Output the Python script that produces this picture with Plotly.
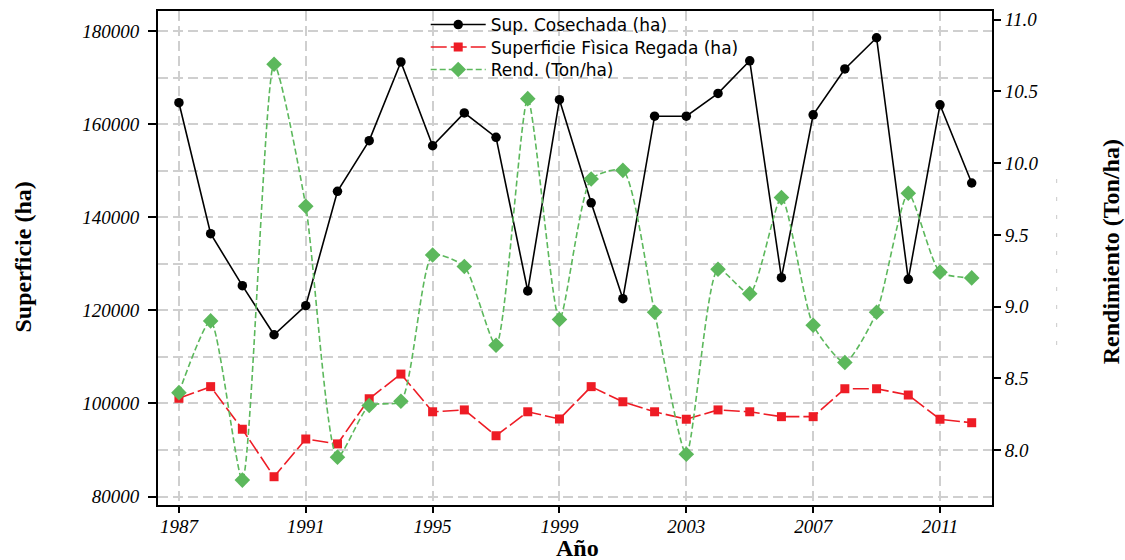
import plotly.graph_objects as go

years = list(range(1987, 2013))

sup_cosechada = [164600, 136450, 125300, 114750, 121000, 145550, 156450, 173350,
                 155350, 162400, 157150, 124150, 165250, 143100, 122500, 161700,
                 161700, 166600, 173600, 127000, 162000, 171850, 178550, 126650,
                 164150, 147350]

sup_regada = [101100, 103600, 94450, 84250, 92350, 91300, 101000, 106300,
              98200, 98600, 93050, 98200, 96650, 103600, 100350, 98200,
              96600, 98600, 98200, 97150, 97150, 103150, 103150, 101800,
              96600, 95850]

rendimiento = [8.40, 8.90, 7.79, 10.69, 9.70, 7.95, 8.31, 8.34, 9.36, 9.28,
               8.73, 10.45, 8.91, 9.89, 9.95, 8.96, 7.97, 9.26, 9.09, 9.76,
               8.87, 8.61, 8.96, 9.79, 9.24, 9.20]

names = ["Sup. Cosechada (ha)", "Superficie Fìsica Regada (ha)", "Rend. (Ton/ha)"]

x_ticks = [1987, 1991, 1995, 1999, 2003, 2007, 2011]
y_ticks = [80000, 100000, 120000, 140000, 160000, 180000]
y2_ticks = [8.0, 8.5, 9.0, 9.5, 10.0, 10.5, 11.0]

BLACK = "#000000"
RED = "#ee1c25"
GREEN = "#5cb85c"
GRID = "#cfcfcf"

tick_font = dict(family="Liberation Serif", size=19, color="black", style="italic")
title_font = dict(family="Liberation Serif", size=24, color="black", weight="bold")
legend_font = dict(family="DejaVu Sans", size=17, color="black")

fig = go.Figure()

fig.add_trace(go.Scatter(
    x=years, y=sup_cosechada, name=names[0], mode="lines+markers",
    line=dict(color=BLACK, width=1.6),
    marker=dict(symbol="circle", size=9.5, color=BLACK),
    yaxis="y", legend="legend"))

fig.add_trace(go.Scatter(
    x=years, y=sup_regada, name=names[1], mode="lines+markers",
    line=dict(color=RED, width=1.6, dash="16px,4px"),
    marker=dict(symbol="square", size=9, color=RED),
    yaxis="y", legend="legend2"))

fig.add_trace(go.Scatter(
    x=years, y=rendimiento, name=names[2], mode="lines+markers",
    line=dict(color=GREEN, width=1.6, dash="6px,3px", shape="spline", smoothing=0.6),
    marker=dict(symbol="diamond", size=12, color=GREEN),
    yaxis="y2", legend="legend3"))

# legend row centres (page px) -> paper coords
def leg(yc):
    return dict(x=0.321, y=(505 - yc) / 494, xanchor="left", yanchor="middle",
                bgcolor="rgba(0,0,0,0)", borderwidth=0, font=legend_font,
                itemwidth=55)

fig.update_layout(
    width=1125, height=560,
    margin=dict(l=158, r=133, t=11, b=55, pad=0, autoexpand=False),
    paper_bgcolor="white", plot_bgcolor="white",
    showlegend=True,
    legend=leg(25), legend2=leg(47.5), legend3=leg(70),
    xaxis=dict(range=[1986.34, 2012.64], tickvals=x_ticks, ticktext=[str(v) for v in x_ticks],
               ticks="outside", ticklen=6, tickwidth=1.5, tickcolor="black",
               showline=True, linecolor="black", linewidth=2, mirror=True,
               showgrid=True, gridcolor=GRID, griddash="10px,5px", gridwidth=1.5,
               tickfont=tick_font, zeroline=False, ticklabelstandoff=-3),
    yaxis=dict(range=[78174, 184297], tickvals=y_ticks, ticktext=[str(v) for v in y_ticks],
               ticks="outside", ticklen=8, tickwidth=1.5, tickcolor="black",
               showline=True, linecolor="black", linewidth=2,
               showgrid=True, gridcolor=GRID, griddash="10px,5px", gridwidth=1.5,
               minor=dict(dtick=10000, tick0=80000, showgrid=True, gridcolor=GRID,
                          griddash="10px,5px", gridwidth=1.5, ticks=""),
               tickfont=tick_font, zeroline=False, ticklabelstandoff=5),
    yaxis2=dict(range=[7.6165, 11.061], tickvals=y2_ticks, ticktext=[f"{v:.1f}" for v in y2_ticks],
                overlaying="y", side="right",
                ticks="outside", ticklen=7, tickwidth=1.5, tickcolor="black",
                showline=True, linecolor="black", linewidth=2,
                showgrid=False, zeroline=False, tickfont=tick_font),
    annotations=[
        dict(text="Superficie (ha)", xref="paper", yref="paper",
             x=(22 - 158) / 834.3, y=0.501, xanchor="center", yanchor="middle",
             textangle=-90, showarrow=False, font=title_font),
        dict(text="Rendimiento (Ton/ha)", xref="paper", yref="paper",
             x=(1111 - 158) / 834.3, y=0.513, xanchor="center", yanchor="middle",
             textangle=-90, showarrow=False, font=title_font),
        dict(text="Año", xref="paper", yref="paper",
             x=(578 - 158) / 834.3, y=(505 - 548) / 494, xanchor="center", yanchor="middle",
             showarrow=False, font=title_font),
    ],
    shapes=[
        dict(type="line", xref="paper", yref="paper",
             x0=(1057 - 158) / 834.3, x1=(1057 - 158) / 834.3,
             y0=(505 - 345) / 494, y1=(505 - 165) / 494,
             line=dict(color="#c8c8c8", width=1, dash="4px,14px")),
    ],
)

fig.write_html("out.html", config={"displayModeBar": False},
               post_script="document.body.style.margin='0';document.body.style.overflow='hidden';")
